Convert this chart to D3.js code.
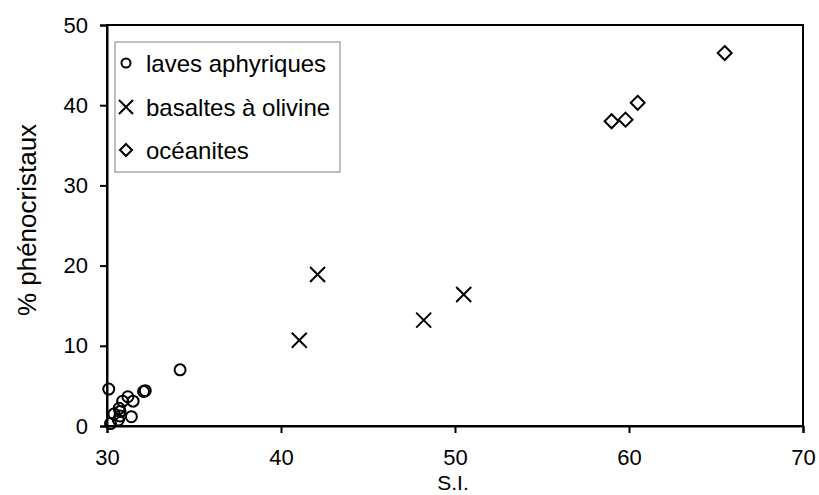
<!DOCTYPE html>
<html><head><meta charset="utf-8">
<script src="https://cdn.jsdelivr.net/npm/d3@7"></script>
<style>
html,body{margin:0;padding:0;background:#fff;}
text{font-family:"Liberation Sans",Arial,sans-serif;fill:#000;}
</style></head>
<body><svg id="c" width="819" height="495"></svg>
<script>
// Data
const aphyX = [30.1, 30.2, 30.4, 30.65, 30.75, 30.75, 30.7, 30.9, 31.2, 31.5, 31.4, 32.1, 32.2, 34.2];
const aphyY = [4.6, 0.3, 1.5, 0.75, 1.8, 1.25, 2.2, 3.1, 3.65, 3.1, 1.16, 4.3, 4.4, 7.0];
const olivX = [41.05, 42.1, 48.2, 50.5];
const olivY = [10.7, 18.9, 13.2, 16.4];
const oceaX = [59.0, 59.8, 60.5, 65.5];
const oceaY = [38.0, 38.2, 40.3, 46.5];
const xTicks = [30, 40, 50, 60, 70];
const yTicks = [0, 10, 20, 30, 40, 50];
const legendLabels = ["laves aphyriques", "basaltes à olivine", "océanites"];
const xTitle = "S.I.";
const yTitle = "% phénocristaux";

const svg = d3.select("#c");
const L = 107, R = 803, T = 25, B = 426;
const x = d3.scaleLinear().domain([30, 70]).range([L, R]);
const y = d3.scaleLinear().domain([0, 50]).range([B, T]);
const FS = 22, FSL = 24, FSY = 26;

// frame
svg.append("rect").attr("x", L).attr("y", T).attr("width", R-L).attr("height", B-T)
  .attr("fill","none").attr("stroke","#000").attr("stroke-width",2);

// axes
const xa = svg.append("g").attr("transform",`translate(0,${B})`)
  .call(d3.axisBottom(x).tickValues(xTicks).tickSize(7).tickPadding(16).tickFormat(d3.format("d")));
const ya = svg.append("g").attr("transform",`translate(${L},0)`)
  .call(d3.axisLeft(y).tickValues(yTicks).tickSize(7).tickPadding(12).tickFormat(d3.format("d")));
[xa, ya].forEach(a => {
  a.select(".domain").attr("stroke","#000").attr("stroke-width",2);
  a.selectAll(".tick line").attr("stroke","#000").attr("stroke-width",2);
  a.selectAll(".tick text").attr("font-size",FS).attr("font-family","Liberation Sans, Arial, sans-serif");
});

// titles
svg.append("text").attr("x", (L+R)/2 - 2).attr("y", 490).attr("text-anchor","middle")
  .attr("font-size",21).text(xTitle);
svg.append("text").attr("transform",`translate(36,220) rotate(-90)`).attr("text-anchor","middle")
  .attr("font-size",FSY).text(yTitle);

// markers
const sw = 2;
function circle(g, cx, cy, r){ g.append("circle").attr("cx",cx).attr("cy",cy).attr("r",r).attr("fill","none").attr("stroke","#000").attr("stroke-width",sw); }
function cross(g, cx, cy, s){ g.append("path").attr("d",`M${cx-s},${cy-s}L${cx+s},${cy+s}M${cx-s},${cy+s}L${cx+s},${cy-s}`).attr("stroke","#000").attr("stroke-width",sw).attr("fill","none"); }
function diamond(g, cx, cy, s){ g.append("path").attr("d",`M${cx},${cy-s}L${cx+s},${cy}L${cx},${cy+s}L${cx-s},${cy}Z`).attr("stroke","#000").attr("stroke-width",sw).attr("fill","#fff"); }

const pts = svg.append("g");
aphyX.forEach((v,i)=> circle(pts, x(v), y(aphyY[i]), 5.5));
olivX.forEach((v,i)=> cross(pts, x(v), y(olivY[i]), 7.5));
oceaX.forEach((v,i)=> diamond(pts, x(v), y(oceaY[i]), 7));

// legend
const lg = svg.append("g");
lg.append("rect").attr("x",115).attr("y",42).attr("width",225).attr("height",130)
  .attr("fill","#fff").attr("stroke","#808080").attr("stroke-width",1);
const rows = [63, 107, 150];
circle(lg, 126, rows[0], 4.5);
cross(lg, 126, rows[1], 7);
diamond(lg, 126, rows[2], 6);
legendLabels.forEach((t,i)=> lg.append("text").attr("x",146).attr("y",rows[i]+8.5).attr("font-size",FSL).text(t));
</script></body></html>
